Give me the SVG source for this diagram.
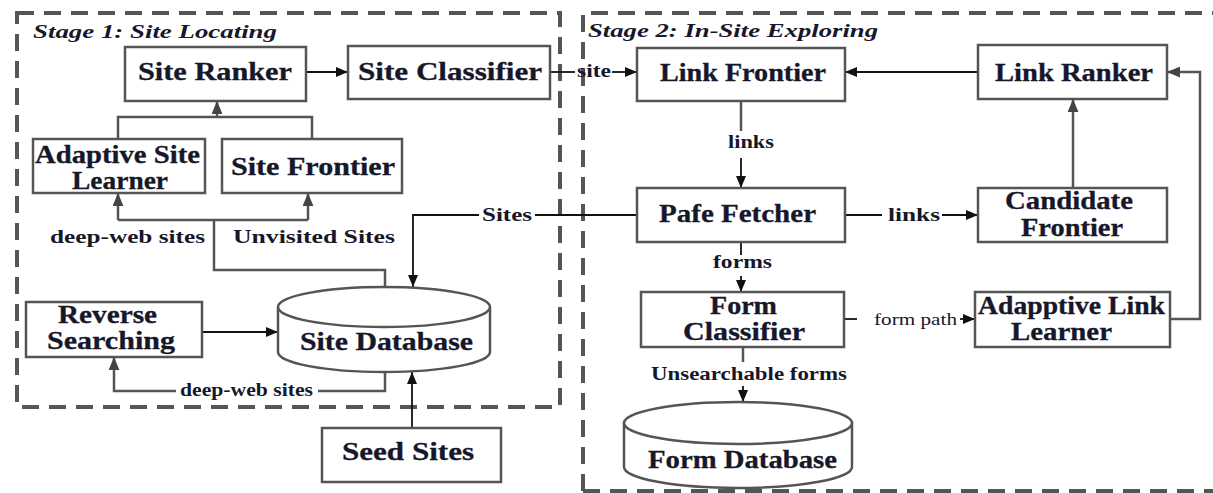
<svg xmlns="http://www.w3.org/2000/svg" width="1213" height="493" viewBox="0 0 1213 493">
  <defs>
    <marker id="ah" viewBox="0 0 12 10" refX="12" refY="5" markerWidth="12" markerHeight="10" markerUnits="userSpaceOnUse" orient="auto">
      <path d="M0,0 L12,5 L0,10 z" fill="#111"/>
    </marker>
    <marker id="ahg" viewBox="0 0 12 10" refX="12" refY="5" markerWidth="13" markerHeight="11" markerUnits="userSpaceOnUse" orient="auto">
      <path d="M0,0 L12,5 L0,10 z" fill="#444"/>
    </marker>
  </defs>
  <style>
    .stage { fill: none; stroke: #555; stroke-width: 4; stroke-dasharray: 17 10; }
    .box { fill: #fff; stroke: #555; stroke-width: 2.5; }
    .node { font-family: "Liberation Serif", "Times New Roman", serif; font-weight: bold; font-size: 25px; fill: #17172a; stroke: #17172a; stroke-width: 0.3; }
    .lbl { font-family: "Liberation Serif", "Times New Roman", serif; font-weight: bold; font-size: 18px; fill: #17172a; }
    .small { font-family: "Liberation Serif", "Times New Roman", serif; font-size: 16px; fill: #17172a; }
    .title { font-family: "Liberation Serif", "Times New Roman", serif; font-weight: bold; font-style: italic; font-size: 18px; fill: #17172a; }
    .ln { fill: none; stroke: #111; stroke-width: 1.8; }
    .lg { fill: none; stroke: #555; stroke-width: 2.5; }
  </style>
  <rect width="1213" height="493" fill="#fff"/>

  <!-- stage frames -->
  <g id="stage1">
    <rect class="stage" x="17" y="13" width="543" height="394"/>
    <text class="title" x="33" y="38" textLength="244" lengthAdjust="spacingAndGlyphs">Stage 1: Site Locating</text>
  </g>
  <g id="stage2">
    <path class="stage" d="M583,491 V13 H1230 M583,491 H1230"/>
    <text class="title" x="588" y="37" textLength="290" lengthAdjust="spacingAndGlyphs">Stage 2: In-Site Exploring</text>
  </g>

  <!-- connectors -->
  <g id="connectors">
    <path class="ln" d="M306,72 H348" marker-end="url(#ah)"/>
    <path class="ln" d="M550,72 H575"/>
    <path class="ln" d="M612,72 H637" marker-end="url(#ah)"/>
    <path class="ln" d="M978,72 H845" marker-end="url(#ah)"/>

    <path class="lg" d="M118,139 V117 H312 V139"/>
    <path class="lg" d="M217,117 V101" marker-end="url(#ahg)"/>

    <path class="lg" d="M385,287 V270 H214 V220"/>
    <path class="lg" d="M118,220 H308"/>
    <path class="lg" d="M118,220 V193" marker-end="url(#ahg)"/>
    <path class="lg" d="M308,220 V193" marker-end="url(#ahg)"/>

    <path class="ln" d="M202,332 H278" marker-end="url(#ah)"/>
    <path class="lg" d="M385,372 V391 H318"/>
    <path class="lg" d="M176,391 H114 V357" marker-end="url(#ahg)"/>
    <path class="ln" d="M412,428 V372" marker-end="url(#ah)"/>

    <path class="ln" d="M637,215 H535"/>
    <path class="ln" d="M479,215 H413 V287" marker-end="url(#ah)"/>

    <path class="lg" d="M741,101 V131"/>
    <path class="ln" d="M741,158 V188" marker-end="url(#ah)"/>
    <path class="ln" d="M845,215 H882"/>
    <path class="ln" d="M942,215 H978" marker-end="url(#ah)"/>
    <path class="lg" d="M1073,188 V99" marker-end="url(#ahg)"/>

    <path class="ln" d="M741,242 V255"/>
    <path class="ln" d="M741,276 V292" marker-end="url(#ah)"/>
    <path class="lg" d="M743,347 V362"/>
    <path class="ln" d="M743,386 V402" marker-end="url(#ah)"/>

    <path class="ln" d="M844,319 H857"/>
    <path class="ln" d="M960,319 H975" marker-end="url(#ah)"/>
    <path class="lg" d="M1170,319 H1200 V72 H1167" marker-end="url(#ahg)"/>

    <text class="lbl" x="577" y="77" textLength="34" lengthAdjust="spacingAndGlyphs">site</text>
    <text class="lbl" x="50" y="243" font-size="19" textLength="155" lengthAdjust="spacingAndGlyphs">deep-web sites</text>
    <text class="lbl" x="233" y="243" font-size="19" textLength="162" lengthAdjust="spacingAndGlyphs">Unvisited Sites</text>
    <text class="lbl" x="180" y="396" font-size="16" textLength="133" lengthAdjust="spacingAndGlyphs">deep-web sites</text>
    <text class="lbl" x="482" y="221" textLength="50" lengthAdjust="spacingAndGlyphs">Sites</text>
    <text class="lbl" x="728" y="148" textLength="46" lengthAdjust="spacingAndGlyphs">links</text>
    <text class="lbl" x="888" y="221" textLength="52" lengthAdjust="spacingAndGlyphs">links</text>
    <text class="lbl" x="713" y="268" textLength="59" lengthAdjust="spacingAndGlyphs">forms</text>
    <text class="lbl" x="651" y="380" textLength="196" lengthAdjust="spacingAndGlyphs">Unsearchable forms</text>
    <text class="small" x="874" y="325" textLength="83" lengthAdjust="spacingAndGlyphs">form path</text>
  </g>

  <!-- stage 1 nodes -->
  <g id="site-ranker">
    <rect class="box" x="125" y="47" width="181" height="54"/>
    <text class="node" x="138" y="80" textLength="154" lengthAdjust="spacingAndGlyphs">Site Ranker</text>
  </g>
  <g id="site-classifier">
    <rect class="box" x="348" y="46" width="202" height="53"/>
    <text class="node" x="358" y="80" textLength="184" lengthAdjust="spacingAndGlyphs">Site Classifier</text>
  </g>
  <g id="adaptive-site-learner">
    <rect class="box" x="33" y="139" width="172" height="54"/>
    <text class="node" x="35" y="163" textLength="165" lengthAdjust="spacingAndGlyphs">Adaptive Site</text>
    <text class="node" x="72" y="189" textLength="96" lengthAdjust="spacingAndGlyphs">Learner</text>
  </g>
  <g id="site-frontier">
    <rect class="box" x="222" y="139" width="180" height="54"/>
    <text class="node" x="231" y="175" textLength="164" lengthAdjust="spacingAndGlyphs">Site Frontier</text>
  </g>
  <g id="reverse-searching">
    <rect class="box" x="26" y="302" width="176" height="55"/>
    <text class="node" x="58" y="323" textLength="99" lengthAdjust="spacingAndGlyphs">Reverse</text>
    <text class="node" x="47" y="349" textLength="128" lengthAdjust="spacingAndGlyphs">Searching</text>
  </g>
  <g id="site-database">
    <path class="box" d="M278,307 V352 A106,20 0 0 0 490,352 V307 A106,20 0 0 0 278,307 z"/>
    <path class="box" fill="none" d="M278,307 A106,20 0 0 0 490,307"/>
    <text class="node" x="300" y="350" textLength="173" lengthAdjust="spacingAndGlyphs">Site Database</text>
  </g>
  <g id="seed-sites">
    <rect class="box" x="322" y="428" width="179" height="54"/>
    <text class="node" x="342" y="460" textLength="132" lengthAdjust="spacingAndGlyphs">Seed Sites</text>
  </g>

  <!-- stage 2 nodes -->
  <g id="link-frontier">
    <rect class="box" x="637" y="48" width="208" height="53"/>
    <text class="node" x="660" y="81" textLength="166" lengthAdjust="spacingAndGlyphs">Link Frontier</text>
  </g>
  <g id="link-ranker">
    <rect class="box" x="978" y="45" width="189" height="54"/>
    <text class="node" x="995" y="81" textLength="158" lengthAdjust="spacingAndGlyphs">Link Ranker</text>
  </g>
  <g id="page-fetcher">
    <rect class="box" x="637" y="188" width="208" height="54"/>
    <text class="node" x="659" y="222" textLength="157" lengthAdjust="spacingAndGlyphs">Pafe Fetcher</text>
  </g>
  <g id="candidate-frontier">
    <rect class="box" x="978" y="188" width="189" height="54"/>
    <text class="node" x="1005" y="209" textLength="128" lengthAdjust="spacingAndGlyphs">Candidate</text>
    <text class="node" x="1021" y="236" textLength="102" lengthAdjust="spacingAndGlyphs">Frontier</text>
  </g>
  <g id="form-classifier">
    <rect class="box" x="641" y="292" width="203" height="55"/>
    <text class="node" x="710" y="314" textLength="67" lengthAdjust="spacingAndGlyphs">Form</text>
    <text class="node" x="683" y="340" textLength="122" lengthAdjust="spacingAndGlyphs">Classifier</text>
  </g>
  <g id="adaptive-link-learner">
    <rect class="box" x="975" y="292" width="195" height="55"/>
    <text class="node" x="978" y="314" textLength="187" lengthAdjust="spacingAndGlyphs">Adapptive Link</text>
    <text class="node" x="1011" y="340" textLength="101" lengthAdjust="spacingAndGlyphs">Learner</text>
  </g>
  <g id="form-database">
    <path class="box" d="M624,423 V467 A114,21 0 0 0 852,467 V423 A114,21 0 0 0 624,423 z"/>
    <path class="box" fill="none" d="M624,423 A114,21 0 0 0 852,423"/>
    <text class="node" x="648" y="468" textLength="189" lengthAdjust="spacingAndGlyphs">Form Database</text>
  </g>
</svg>
